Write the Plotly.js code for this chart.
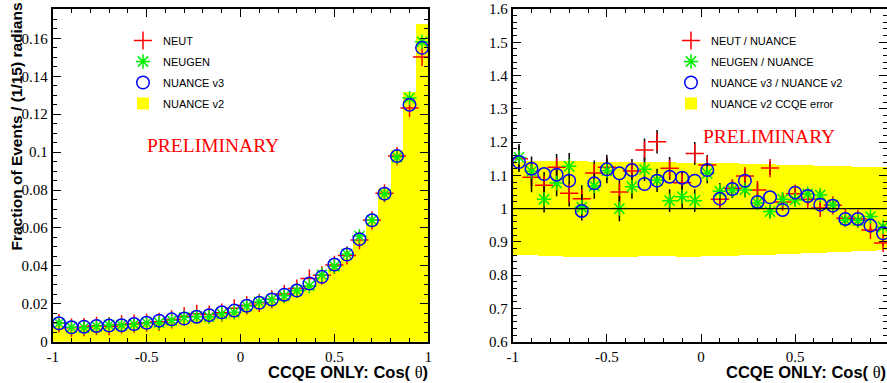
<!DOCTYPE html>
<html><head><meta charset="utf-8">
<script src="https://cdn.plot.ly/plotly-3.0.1.min.js"></script>
<style>html,body{margin:0;padding:0;background:#fff;}#plot{width:887px;height:383px;}</style>
</head><body><div id="plot"></div>
<script>
// Bin centres of cos(theta), 30 bins of width 1/15
const binCenters = [-0.9667,-0.9,-0.8333,-0.7667,-0.7,-0.6333,-0.5667,-0.5,-0.4333,-0.3667,-0.3,-0.2333,-0.1667,-0.1,-0.0333,0.0333,0.1,0.1667,0.2333,0.3,0.3667,0.4333,0.5,0.5667,0.6333,0.7,0.7667,0.8333,0.9,0.9667];
const binWidth = 1/15;

// Left panel: fraction of events
const nuanceV2 = [0.0085,0.0068,0.0072,0.0075,0.0078,0.0088,0.0086,0.0089,0.0100,0.0106,0.0114,0.0122,0.0128,0.0142,0.0151,0.0170,0.0199,0.0211,0.0229,0.0265,0.0297,0.0343,0.0388,0.0443,0.0535,0.0634,0.0806,0.1010,0.1317,0.1674];
const nuanceV3 = [0.0097,0.0076,0.0079,0.0083,0.0085,0.0087,0.0093,0.0100,0.0111,0.0118,0.0122,0.0132,0.0140,0.0155,0.0164,0.0190,0.0205,0.0223,0.0248,0.0270,0.0307,0.0342,0.0407,0.0460,0.0541,0.0640,0.0781,0.0979,0.1250,0.1550];
const neut = [0.0098,0.0074,0.0077,0.0084,0.0082,0.0091,0.0095,0.0100,0.0105,0.0118,0.0134,0.0147,0.0143,0.0153,0.0176,0.0192,0.0205,0.0224,0.0251,0.0280,0.0333,0.0350,0.0405,0.0455,0.0536,0.0640,0.0783,0.0979,0.1233,0.1502];
const neugen = [0.0098,0.0076,0.0074,0.0081,0.0088,0.0088,0.0092,0.0099,0.0100,0.0113,0.0127,0.0132,0.0131,0.0147,0.0155,0.0188,0.0209,0.0223,0.0242,0.0270,0.0294,0.0353,0.0398,0.0462,0.0557,0.0641,0.0779,0.0974,0.1285,0.1582];

// Right panel: ratios
const ratioNeut = [1.150,1.094,1.070,1.124,1.046,1.030,1.107,1.124,1.050,1.113,1.176,1.201,1.121,1.078,1.166,1.131,1.028,1.061,1.098,1.056,1.122,1.020,1.045,1.028,1.002,1.010,0.971,0.969,0.936,0.897];
const ratioNeugen = [1.154,1.112,1.028,1.077,1.127,1.004,1.068,1.114,1.000,1.066,1.118,1.085,1.024,1.036,1.024,1.106,1.052,1.056,1.056,1.017,0.991,1.028,1.026,1.044,1.041,1.011,0.966,0.964,0.976,0.945];
const ratioV3 = [1.140,1.120,1.104,1.102,1.084,0.993,1.076,1.118,1.106,1.116,1.074,1.084,1.096,1.093,1.084,1.116,1.030,1.059,1.084,1.020,1.034,0.996,1.048,1.038,1.012,1.009,0.969,0.969,0.949,0.926];
const errNeut = [0.040,0.045,0.040,0.040,0.040,0.040,0.038,0.038,0.038,0.036,0.035,0.035,0.034,0.034,0.034,0.030,0.025,0.024,0.022,0.020,0.020,0.018,0.017,0.016,0.014,0.012,0.010,0.010,0.010,0.010];
const errNeugen = [0.040,0.045,0.040,0.040,0.040,0.040,0.038,0.038,0.038,0.036,0.035,0.035,0.034,0.034,0.034,0.030,0.025,0.024,0.022,0.020,0.020,0.018,0.017,0.016,0.014,0.012,0.010,0.010,0.010,0.010];
const bandHi = [1.140,1.142,1.143,1.143,1.142,1.142,1.141,1.141,1.140,1.140,1.140,1.139,1.139,1.138,1.138,1.137,1.136,1.136,1.135,1.134,1.133,1.132,1.131,1.130,1.129,1.128,1.127,1.126,1.125,1.125];
const bandLo = [0.862,0.860,0.858,0.857,0.856,0.856,0.855,0.855,0.856,0.856,0.857,0.857,0.857,0.856,0.856,0.857,0.858,0.859,0.860,0.861,0.862,0.863,0.865,0.866,0.867,0.869,0.871,0.872,0.874,0.876];

// Tick labels
const xTickVals = [-1,-0.5,0,0.5,1];
const xTickText = ['-1','-0.5','0','0.5','1'];
const yLeftTickVals = [0,0.02,0.04,0.06,0.08,0.1,0.12,0.14,0.16];
const yLeftTickText = ['0','0.02','0.04','0.06','0.08','0.1','0.12','0.14','0.16'];
const yRightTickVals = [0.6,0.7,0.8,0.9,1,1.1,1.2,1.3,1.4,1.5,1.6];
const yRightTickText = ['0.6','0.7','0.8','0.9','1','1.1','1.2','1.3','1.4','1.5','1.6'];

const RED='#ff0000', GREEN='#00f000', BLUE='#0000ff', YEL='#ffff00';
const bandWidths = bandHi.map((h,i)=>h-bandLo[i]);
const widths = binCenters.map(()=>binWidth);

const traces = [
  {type:'bar', x:binCenters, y:nuanceV2, width:widths, marker:{color:YEL,line:{width:0}}, name:'NUANCE v2', xaxis:'x', yaxis:'y', legend:'legend', legendgroup:'a4', legendrank:4},
  {type:'scatter', mode:'markers', x:binCenters, y:neut, name:'NEUT', marker:{symbol:'cross-thin-open', size:13, color:RED, line:{width:1.5,color:RED}}, xaxis:'x', yaxis:'y', legend:'legend', legendgroup:'a1', legendrank:1},
  {type:'scatter', mode:'markers', x:binCenters, y:neugen, name:'NEUGEN', marker:{symbol:'asterisk-open', size:12, color:GREEN, line:{width:1.5,color:GREEN}}, xaxis:'x', yaxis:'y', legend:'legend', legendgroup:'a2', legendrank:2},
  {type:'scatter', mode:'markers', x:binCenters, y:nuanceV3, name:'NUANCE v3', marker:{symbol:'circle-open', size:12.5, color:BLUE, line:{width:1.5,color:BLUE}}, xaxis:'x', yaxis:'y', legend:'legend', legendgroup:'a3', legendrank:3},

  {type:'bar', x:binCenters, y:bandWidths, base:bandLo, width:widths, marker:{color:YEL,line:{width:0}}, name:'NUANCE v2 CCQE error', xaxis:'x2', yaxis:'y2', legend:'legend2', legendgroup:'b4', legendrank:4},
  {type:'scatter', mode:'markers', x:binCenters, y:ratioNeut, name:'NEUT / NUANCE', error_y:{type:'data', array:errNeut, color:'#000', thickness:1.5, width:0}, marker:{symbol:'cross-thin-open', size:13, color:RED, line:{width:1.5,color:RED}}, xaxis:'x2', yaxis:'y2', legend:'legend2', legendgroup:'b1', legendrank:1},
  {type:'scatter', mode:'markers', x:binCenters, y:ratioNeugen, name:'NEUGEN / NUANCE', error_y:{type:'data', array:errNeugen, color:'#000', thickness:1.5, width:0}, marker:{symbol:'asterisk-open', size:12, color:GREEN, line:{width:1.5,color:GREEN}}, xaxis:'x2', yaxis:'y2', legend:'legend2', legendgroup:'b2', legendrank:2},
  {type:'scatter', mode:'markers', x:binCenters, y:ratioV3, name:'NUANCE v3 / NUANCE v2', marker:{symbol:'circle-open', size:12.5, color:BLUE, line:{width:1.5,color:BLUE}}, xaxis:'x2', yaxis:'y2', legend:'legend2', legendgroup:'b3', legendrank:3}
];

const tickFont = {family:'Liberation Serif', size:15, color:'#000'};
const baseAxis = {showline:true, linewidth:2, linecolor:'#000', mirror:'ticks', ticks:'inside', ticklen:8, tickwidth:1, tickcolor:'#000', showgrid:false, zeroline:false, tickfont:tickFont, tickmode:'array'};
const yDom = [1-341.7/383, 1-9/383];

const legendCommon = {font:{family:'Liberation Sans', size:11, color:'#000'}, bgcolor:'rgba(0,0,0,0)', borderwidth:0, traceorder:'grouped', tracegroupgap:2, yanchor:'top', xanchor:'left', itemsizing:'trace'};

const layout = {
  width:887, height:383, margin:{l:0,r:0,t:0,b:0},
  paper_bgcolor:'#fff', plot_bgcolor:'#fff',
  barmode:'overlay', bargap:0, showlegend:true,
  xaxis: Object.assign({}, baseAxis, {domain:[52.7/887, 428.3/887], range:[-1,1], tickvals:xTickVals, ticktext:xTickText, anchor:'y', minor:{dtick:0.1, tick0:-1, ticks:'inside', ticklen:4, tickcolor:'#000', showgrid:false}}),
  yaxis: Object.assign({}, baseAxis, {domain:yDom, range:[0,0.1755], tickvals:yLeftTickVals, ticktext:yLeftTickText, anchor:'x', minor:{dtick:0.005, tick0:0, ticks:'inside', ticklen:4, tickcolor:'#000', showgrid:false}}),
  xaxis2: Object.assign({}, baseAxis, {domain:[512.7/887, 1], range:[-1,0.9878], tickvals:xTickVals, ticktext:xTickText, anchor:'y2', minor:{dtick:0.1, tick0:-1, ticks:'inside', ticklen:4, tickcolor:'#000', showgrid:false}}),
  yaxis2: Object.assign({}, baseAxis, {domain:yDom, range:[0.6,1.6], tickvals:yRightTickVals, ticktext:yRightTickText, anchor:'x2', minor:{dtick:0.02, tick0:0.6, ticks:'inside', ticklen:4, tickcolor:'#000', showgrid:false}}),
  legend: Object.assign({}, legendCommon, {x:123/887, y:1-26/383}),
  legend2: Object.assign({}, legendCommon, {x:671/887, y:1-26/383}),
  shapes:[
    {type:'line', xref:'x2 domain', yref:'y2', x0:0, x1:1, y0:1, y1:1, line:{color:'#000', width:1.2}}
  ],
  annotations:[
    {text:'<b>Fraction of Events / (1/15) radians</b>', textangle:-90, xref:'paper', yref:'paper', x:16/887, y:1-0.5/383, xanchor:'center', yanchor:'top', showarrow:false, font:{family:'Liberation Sans', size:15.5, color:'#000'}},
    {text:'<b>CCQE ONLY: Cos( </b><span style="font-family:Liberation Serif">θ</span><b>)</b>', xref:'paper', yref:'paper', x:429/887, y:1-372/383, xanchor:'right', yanchor:'middle', borderpad:0, showarrow:false, font:{family:'Liberation Sans', size:16.5, color:'#000'}},
    {text:'<b>CCQE ONLY: Cos( </b><span style="font-family:Liberation Serif">θ</span><b>)</b>', xref:'paper', yref:'paper', x:887/887, y:1-372/383, xanchor:'right', yanchor:'middle', borderpad:0, showarrow:false, font:{family:'Liberation Sans', size:16.5, color:'#000'}},
    {text:'PRELIMINARY', xref:'paper', yref:'paper', x:145/887, y:1-145/383, xanchor:'left', yanchor:'middle', showarrow:false, font:{family:'Liberation Serif', size:19.5, color:RED}},
    {text:'PRELIMINARY', xref:'paper', yref:'paper', x:701/887, y:1-136/383, xanchor:'left', yanchor:'middle', showarrow:false, font:{family:'Liberation Serif', size:19.5, color:RED}}
  ]
};

Plotly.newPlot('plot', traces, layout, {displayModeBar:false, staticPlot:true});
</script>
</body></html>
